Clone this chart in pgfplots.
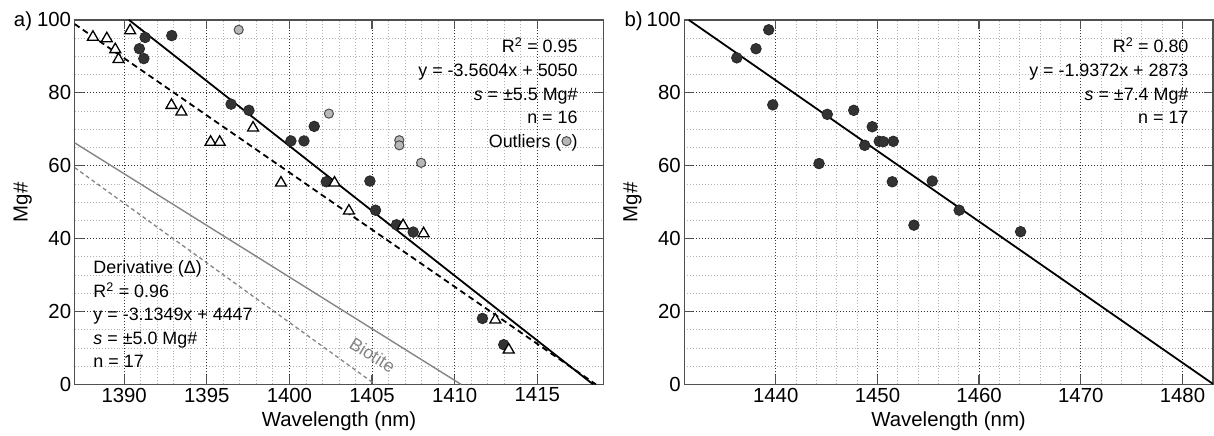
\documentclass[border=0pt]{standalone}
\usepackage{pgfplots}
\pgfplotsset{compat=1.18}
\usepackage{fontspec}
\setmainfont{Liberation Sans}
\definecolor{dotfill}{HTML}{333333}
\definecolor{outfill}{HTML}{B8B8B8}
\definecolor{axcol}{HTML}{505050}
\definecolor{biogray}{HTML}{858585}
\newsavebox{\outbox}
\newcommand{\tf}{\fontsize{18}{20}\selectfont}
\newcommand{\tl}{\fontsize{20.5}{23}\selectfont}
\pgfplotsset{
  myax/.style={
    scale only axis, width=530bp, height=365.3bp,
    ymin=0, ymax=100, ytick={0,20,...,100}, minor y tick num=3,
    minor x tick num=4,
    grid=both,
    major grid style={dash pattern=on 1bp off 2bp, line width=0.8bp, black!80},
    minor grid style={dash pattern=on 1bp off 2bp, line width=0.8bp, black!30},
    axis line style={axcol, line width=1.3bp},
    every tick/.style={axcol, line width=1.3bp},
    major tick length=9bp, minor tick length=0pt,
    tick align=inside,
    tick label style={font=\tl},
    label style={font=\tl},
    /pgf/number format/assume math mode=true,
    /pgf/number format/set thousands separator={},
    ylabel={Mg\#},
    xlabel={Wavelength (nm)},
    ylabel style={at={(axis description cs:-0.098,0.5)}, anchor=center},
    xlabel style={at={(axis description cs:0.5,-0.1)}, anchor=center},
  },
  dots/.style={only marks, mark=*, mark size=5.3bp, mark options={fill=dotfill, draw=black!85, line width=0.8bp}},
  outl/.style={only marks, mark=*, mark size=4.6bp, mark options={fill=outfill, draw=black!70, line width=1bp}},
  tris/.style={only marks, mark=triangle*, mark size=6.3bp, mark options={fill=white, draw=black, line width=1.3bp}},
}
\begin{document}
\sbox{\outbox}{\tikz[baseline=-6.6bp]\draw[fill=outfill, draw=black!70, line width=1bp] (0,0) circle (4.6bp);}
\begin{tikzpicture}
\begin{axis}[myax, at={(72bp,50.7bp)}, anchor=south west,
  xmin=1387, xmax=1419, xtick={1390,1395,...,1415}]
\addplot[black, line width=1.8bp, dash pattern=on 6bp off 4bp] coordinates {(1387,98.89) (1418.55,0)};
\addplot[black, line width=1.8bp] coordinates {(1390.29,100) (1418.38,0)};
\addplot[biogray, line width=1.4bp] coordinates {(1387,66.3) (1410.39,0)};
\addplot[biogray, line width=1.3bp, dash pattern=on 4bp off 3bp] coordinates {(1387,59.5) (1405.2,0)};
\addplot[outl] coordinates {(1396.93,97.3) (1402.39,74.3) (1406.65,67.0) (1406.65,65.6) (1407.97,60.8)};
\addplot[dots] coordinates {
(1390.92,92.1) (1391.27,95.2) (1391.19,89.4) (1392.88,95.7) (1396.47,76.9)
(1397.55,75.2) (1400.09,66.8) (1400.88,66.8) (1401.50,70.8) (1402.23,55.6)
(1404.87,55.8) (1405.21,47.8) (1406.48,43.8) (1407.49,41.8) (1411.68,18.1)
(1412.97,10.9)};
\addplot[tris] coordinates {
(1388.11,95.3) (1388.95,94.9) (1389.46,91.9) (1389.66,89.2) (1390.36,97.1)
(1392.86,76.6) (1393.46,74.8) (1395.23,66.5) (1395.78,66.5) (1397.80,70.4)
(1399.49,55.3) (1402.73,55.3) (1403.60,47.6) (1406.88,43.6) (1408.12,41.4)
(1412.46,17.7) (1413.27,9.5)};
\node[anchor=base east, font=\tf] at (axis cs:1417.65,90.96) {R\textsuperscript{2} = 0.95};
\node[anchor=base east, font=\tf] at (axis cs:1417.65,84.55) {y = -3.5604x + 5050};
\node[anchor=base east, font=\tf] at (axis cs:1417.65,77.97) {\textit{s} = ±5.5 Mg\#};
\node[anchor=base east, font=\tf] at (axis cs:1417.65,71.51) {n = 16};
\node[anchor=base east, font=\tf] at (axis cs:1417.65,64.93) {Outliers (\usebox{\outbox})};
\node[anchor=base west, font=\tf] at (axis cs:1387.93,30.49) {Derivative (Δ)};
\node[anchor=base west, font=\tf] at (axis cs:1387.93,23.84) {R\textsuperscript{2} = 0.96};
\node[anchor=base west, font=\tf] at (axis cs:1387.93,17.62) {y = -3.1349x + 4447};
\node[anchor=base west, font=\tf] at (axis cs:1387.93,11.05) {\textit{s} = ±5.0 Mg\#};
\node[anchor=base west, font=\tf] at (axis cs:1387.93,4.66) {n = 17};
\node[rotate=-32, font=\tf, text=biogray] at (axis cs:1405.03,8.1) {Biotite};
\end{axis}
\begin{axis}[myax, at={(683bp,50.7bp)}, anchor=south west,
  xmin=1431, xmax=1483, xtick={1440,1450,...,1480}]
\addplot[black, line width=1.8bp] coordinates {(1431.45,100) (1483,0.13)};
\addplot[dots] coordinates {
(1436.17,89.6) (1438.06,92.1) (1439.31,97.3) (1439.71,76.7) (1445.07,74.1)
(1444.26,60.6) (1447.67,75.2) (1449.49,70.7) (1448.75,65.6) (1450.18,66.7)
(1450.58,66.6) (1451.56,66.7) (1451.46,55.6) (1453.59,43.7) (1455.39,55.8)
(1458.04,47.8) (1464.08,41.9)};
\node[anchor=base east, font=\tf] at (axis cs:1480.93,90.96) {R\textsuperscript{2} = 0.80};
\node[anchor=base east, font=\tf] at (axis cs:1480.93,84.55) {y = -1.9372x + 2873};
\node[anchor=base east, font=\tf] at (axis cs:1480.93,77.97) {\textit{s} = ±7.4 Mg\#};
\node[anchor=base east, font=\tf] at (axis cs:1480.93,71.51) {n = 17};
\end{axis}
\node[anchor=base west, font=\tl, inner sep=0pt] at (11bp,409.3bp) {a)};
\node[anchor=base west, font=\tl, inner sep=0pt] at (623bp,409.3bp) {b)};
\pgfresetboundingbox
\useasboundingbox (0,0) rectangle (1214bp,436bp);
\end{tikzpicture}
\end{document}
